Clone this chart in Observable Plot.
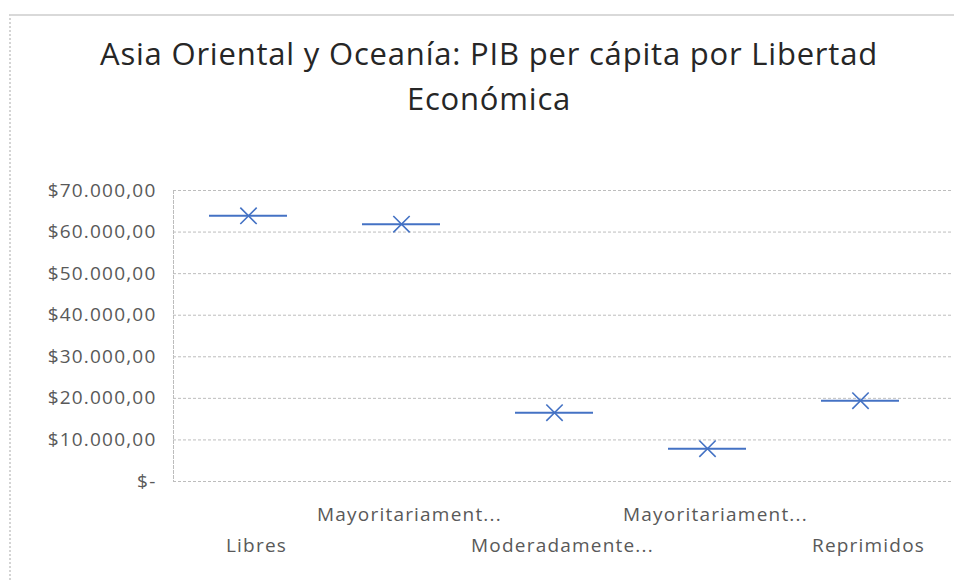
<!DOCTYPE html>
<html><head><meta charset="utf-8">
<script src="https://cdn.jsdelivr.net/npm/d3@7"></script>
<script src="https://cdn.jsdelivr.net/npm/@observablehq/plot@0.6"></script>
<style>
body{margin:0;background:#fff;}
#wrap{position:relative;width:954px;height:581px;overflow:hidden;font-family:"Open Sans",sans-serif;}
#frame{position:absolute;left:9px;top:14px;width:980px;height:620px;border-top:2px solid #d9d9d9;border-left:2px dotted #d4d4d4;}
#title{position:absolute;left:59px;width:860px;top:31px;text-align:center;font-size:31px;letter-spacing:0.8px;line-height:45px;color:#262626;}
#chart{position:absolute;left:0;top:0;}
</style></head><body>
<div id="wrap"><div id="frame"></div><div id="title"></div><div id="chart"></div></div>
<script>
const title = "Asia Oriental y Oceanía: PIB per cápita por Libertad Económica";
const categories = ["Libres", "Mayoritariamente libres", "Moderadamente libres", "Mayoritariamente no libres", "Reprimidos"];
const categoryLabels = ["Libres", "Mayoritariament...", "Moderadamente...", "Mayoritariament...", "Reprimidos"];
const medians = [63900, 61900, 16550, 7900, 19450];
const means = [63900, 61900, 16550, 7900, 19450];
const yTicks = [0, 10000, 20000, 30000, 40000, 50000, 60000, 70000];
const yTickLabels = ["$-", "$10.000,00", "$20.000,00", "$30.000,00", "$40.000,00", "$50.000,00", "$60.000,00", "$70.000,00"];

const titleEl = document.getElementById("title");
const words = title.split(" ");
titleEl.innerHTML = "";
titleEl.append(words.slice(0, -1).join(" "), document.createElement("br"), words[words.length - 1]);

const data = categories.map((c, i) => ({category: c, median: medians[i], mean: means[i]}));
const lowerRow = categories.filter((_, i) => i % 2 === 0);
const upperRow = categories.filter((_, i) => i % 2 === 1);
const catLabel = d => categoryLabels[categories.indexOf(d)];

const chart = Plot.plot({
  width: 954,
  height: 581,
  marginLeft: 173,
  marginRight: 2,
  marginTop: 190,
  marginBottom: 100,
  style: {fontFamily: "Open Sans, sans-serif", color: "#595959", background: "transparent", overflow: "visible", letterSpacing: "1.2px"},
  x: {type: "band", domain: categories, range: [169.8, 938.6], paddingInner: 0.49, paddingOuter: 0.245, axis: null},
  y: {domain: [0, 70000], axis: null},
  marks: [
    Plot.gridY(yTicks, {stroke: "#bdbdbd", strokeOpacity: 1, strokeDasharray: "3,2", strokeWidth: 1}),
    Plot.frame({anchor: "left", stroke: "#bdbdbd", strokeDasharray: "3,2", strokeWidth: 1}),
    Plot.axisY(yTicks, {tickFormat: d => yTickLabels[yTicks.indexOf(d)], tickSize: 0, tickPadding: 17, fontSize: 19, label: null}),
    Plot.axisX(upperRow, {tickFormat: catLabel, tickSize: 0, tickPadding: 26, dx: 8, fontSize: 19, label: null}),
    Plot.axisX(lowerRow, {tickFormat: catLabel, tickSize: 0, tickPadding: 57, dx: 8, fontSize: 19, label: null}),
    Plot.tickY(data, {x: "category", y: "median", stroke: "#4472c4", strokeWidth: 2}),
    Plot.dot(data, {x: "category", y: "mean", symbol: "times", r: 7.5, stroke: "#4472c4", strokeWidth: 1.6})
  ]
});
document.getElementById("chart").appendChild(chart);
</script>
</body></html>
